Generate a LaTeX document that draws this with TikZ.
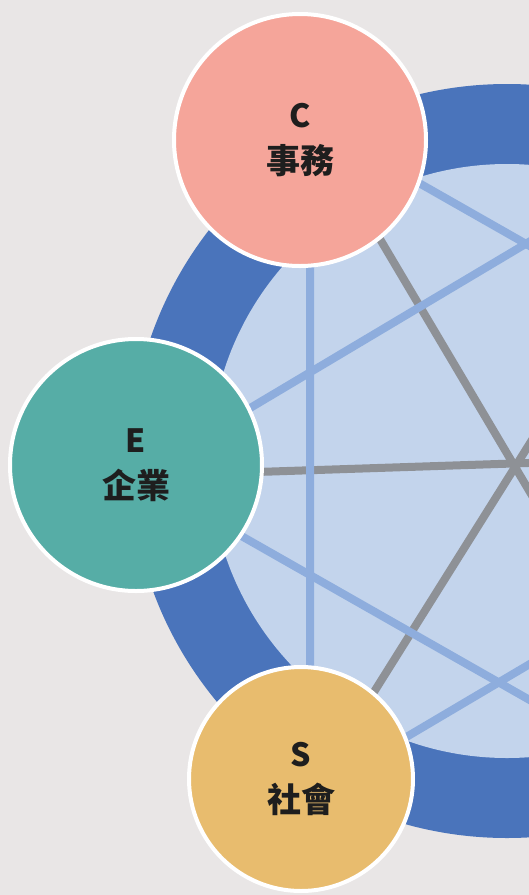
\documentclass[tikz,border=0pt]{standalone}
\usepackage{fontspec}
\newfontfamily\cjk{Noto Sans CJK TC}

\definecolor{paper}{HTML}{E9E6E6}
\definecolor{ringblue}{HTML}{4A74BB}
\definecolor{discblue}{HTML}{C3D4EC}
\definecolor{chordblue}{HTML}{8EADDD}
\definecolor{spokegrey}{HTML}{8E9196}
\definecolor{colC}{HTML}{F5A59A}
\definecolor{colE}{HTML}{56ADA6}
\definecolor{colS}{HTML}{E8BC6E}
\definecolor{ink}{HTML}{1E1E1E}

\begin{document}
\begin{tikzpicture}[x=1pt, y=-1pt,
        bubble/.style={circle, draw=white, line width=4pt, text=ink,
            align=center, inner sep=0pt,
            font=\cjk\bfseries\fontsize{32}{46}\selectfont},
        chord/.style={draw=chordblue, line width=8pt},
        spoke/.style={draw=spokegrey, line width=8pt}]

        % Frame of the picture.
        \clip (0,0) rectangle (529,895);
        \fill [paper] (0,0) rectangle (529,895);

        % Positions for the middle and the corners of the star.
        \coordinate (M) at (507,461);
        \coordinate (vC) at (310,121);
        \coordinate (vE) at (136,476);
        \coordinate (vS) at (310,794);
        \coordinate (vR) at (732,121);
        \coordinate (vI) at (890,451);
        \coordinate (vA) at (716,806);

        % Ring and disc.
        \fill [ringblue] (M) circle [radius=377pt];
        \fill [discblue] (M) circle [radius=297pt];

        % Spokes through the middle.
        \draw [spoke] (vC) to (vA);
        \draw [spoke] (vE) to (vI);
        \draw [spoke] (vS) to (vR);

        % Sides of the two triangles.
        \draw [chord] (vC) to (vS) to (vI) to cycle;
        \draw [chord] (vE) to (vR) to (vA) to cycle;

        % The three circles.
        \node [bubble, fill=colC, minimum size=252pt] (C) at (300,140)
            {C\\{\fontsize{34}{46}\selectfont 事務}};
        \node [bubble, fill=colE, minimum size=252pt] (E) at (136,465)
            {E\\{\fontsize{34}{46}\selectfont 企業}};
        \node [bubble, fill=colS, minimum size=224pt] (S) at (301,779)
            {S\\{\fontsize{34}{46}\selectfont 社會}};
    \end{tikzpicture}
\end{document}
